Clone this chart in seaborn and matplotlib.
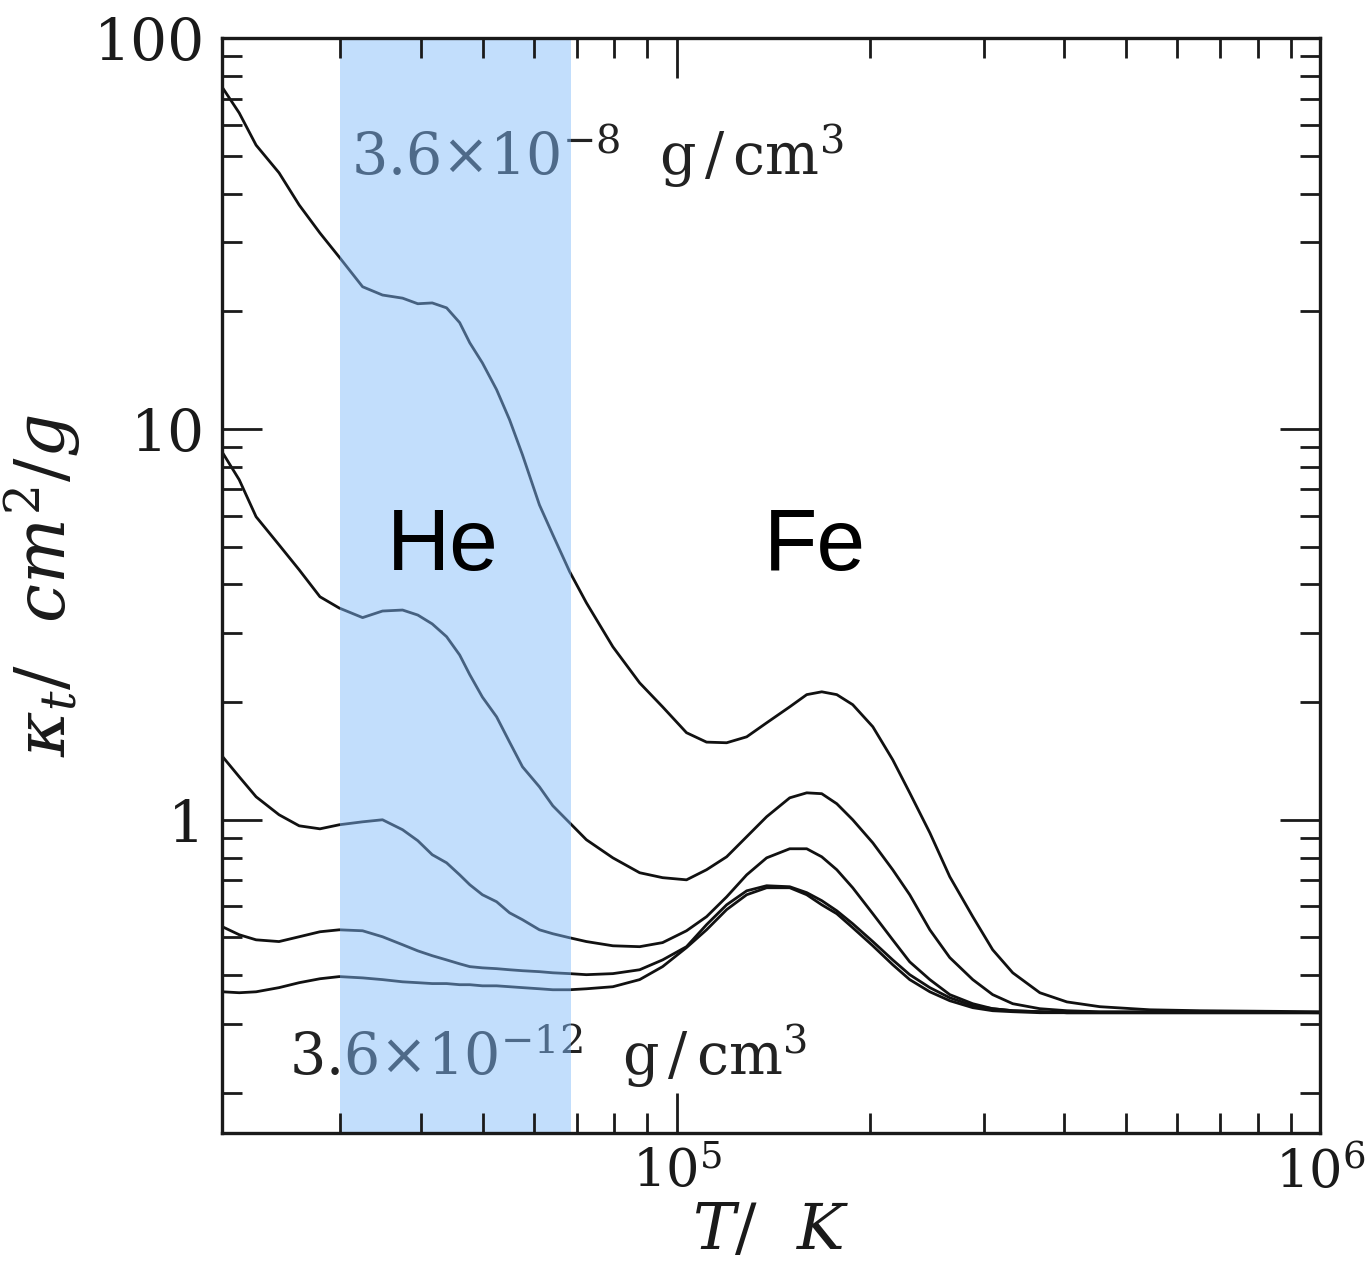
import numpy as np
import pandas as pd
import matplotlib
matplotlib.use("Agg")
import matplotlib.pyplot as plt
import seaborn as sns
from matplotlib.ticker import FixedLocator, LogLocator, NullFormatter

# ---------------- data ----------------
T = [19700, 20900, 22200, 24100, 25900, 27900, 29900, 32500, 34900, 37500,
     39600, 41700, 43900, 46000, 47700, 49900, 52500, 55000, 57600, 61200,
     64200, 68200, 72400, 79600, 87600, 95100, 103600, 111300, 119600, 128500,
     138000, 149900, 159300, 168100, 177400, 187800, 201800, 216700, 230300, 247500,
     265800, 288600, 309900, 333000, 366900, 404200, 454800, 543900, 650700, 1000000]

kappa_rho_8 = [74.5, 64.3, 53.2, 45.2, 37.4, 31.7, 27.5, 23.1, 22.0, 21.6,
               20.9, 21.0, 20.4, 18.7, 16.6, 14.75, 12.6, 10.55, 8.58, 6.39,
               5.36, 4.31, 3.59, 2.77, 2.24, 1.945, 1.67, 1.58, 1.574, 1.63,
               1.77, 1.945, 2.09, 2.125, 2.09, 1.97, 1.73, 1.424, 1.172, 0.926,
               0.715, 0.565, 0.465, 0.406, 0.361, 0.342, 0.3325, 0.3265, 0.3247, 0.3228]

kappa_rho_9 = [8.68, 7.41, 5.96, 5.05, 4.36, 3.72, 3.48, 3.29, 3.42, 3.44,
               3.34, 3.17, 2.94, 2.64, 2.35, 2.06, 1.834, 1.58, 1.366, 1.214,
               1.086, 0.982, 0.889, 0.799, 0.732, 0.711, 0.702, 0.745, 0.804, 0.905,
               1.018, 1.138, 1.172, 1.166, 1.099, 1.0, 0.873, 0.745, 0.643, 0.523,
               0.444, 0.390, 0.357, 0.3384, 0.3286, 0.3247, 0.3228, 0.3228, 0.3228, 0.3209]

kappa_rho_10 = [1.449, 1.288, 1.145, 1.030, 0.965, 0.948, 0.971, 0.988, 1.0, 0.943,
                0.884, 0.814, 0.776, 0.723, 0.682, 0.643, 0.617, 0.578, 0.555, 0.523,
                0.511, 0.499, 0.488, 0.476, 0.4735, 0.485, 0.520, 0.565, 0.635, 0.723,
                0.799, 0.843, 0.843, 0.804, 0.745, 0.670, 0.575, 0.493, 0.433, 0.390,
                0.357, 0.3384, 0.3286, 0.3247, 0.3228, 0.3209, 0.3209, 0.3209, 0.3209, 0.3209]

kappa_rho_11 = [0.532, 0.508, 0.493, 0.488, 0.502, 0.517, 0.523, 0.520, 0.502, 0.479,
                0.462, 0.449, 0.438, 0.428, 0.421, 0.418, 0.416, 0.4133, 0.411, 0.4087,
                0.406, 0.404, 0.4015, 0.404, 0.4133, 0.438, 0.4735, 0.539, 0.606, 0.658,
                0.678, 0.674, 0.651, 0.621, 0.585, 0.542, 0.488, 0.438, 0.4015, 0.372,
                0.3505, 0.3345, 0.3286, 0.3247, 0.3228, 0.3209, 0.3209, 0.3209, 0.3209, 0.3209]

kappa_rho_12 = [0.363, 0.361, 0.363, 0.372, 0.383, 0.392, 0.397, 0.394, 0.390, 0.385,
                0.383, 0.381, 0.381, 0.3785, 0.3785, 0.376, 0.376, 0.374, 0.372, 0.3695,
                0.3674, 0.3674, 0.3695, 0.374, 0.390, 0.421, 0.471, 0.523, 0.589, 0.643,
                0.670, 0.670, 0.643, 0.606, 0.575, 0.5295, 0.476, 0.4258, 0.390, 0.363,
                0.3444, 0.3306, 0.3247, 0.3228, 0.3209, 0.3209, 0.3209, 0.3209, 0.3209, 0.3209]

densities = ["3.6e-8", "3.6e-9", "3.6e-10", "3.6e-11", "3.6e-12"]
series = [kappa_rho_8, kappa_rho_9, kappa_rho_10, kappa_rho_11, kappa_rho_12]

he_band = (30000, 68500)
x_ticks = [1e5, 1e6]
x_ticklabels = [r"$10^5$", r"$10^6$"]
x_minor = [3e4, 4e4, 5e4, 6e4, 7e4, 8e4, 9e4,
           2e5, 3e5, 4e5, 5e5, 6e5, 7e5, 8e5, 9e5]
y_ticks = [1, 10, 100]
y_ticklabels = ["1", "10", "100"]

df = pd.concat(
    [pd.DataFrame({"T": T, "kappa": k, "rho": d}) for d, k in zip(densities, series)],
    ignore_index=True,
)

# ---------------- style ----------------
sns.set_theme(style="ticks")
plt.rcParams["font.family"] = ["DejaVu Serif"]
plt.rcParams["mathtext.fontset"] = "dejavuserif"

fig = plt.figure(figsize=(13.69, 12.71), dpi=100)
ax = fig.add_axes([222 / 1369, 1 - 1133 / 1271, (1320 - 222) / 1369, (1133 - 38) / 1271])

sns.lineplot(data=df, x="T", y="kappa", units="rho", estimator=None,
             color="#111111", linewidth=2.0, ax=ax, legend=False, zorder=2,
             sort=True)

ax.set_xscale("log")
ax.set_yscale("log")
ax.set_xlim(19650, 1e6)
ax.set_ylim(0.158, 100)

# He band drawn over the curves / text with transparency
ax.axvspan(he_band[0], he_band[1], color=(0.50, 0.73, 0.98), alpha=0.48,
           lw=0, zorder=2.2)

ax.set_axisbelow(False)
for sp in ax.spines.values():
    sp.set_linewidth(2.4)
    sp.set_color("#1a1a1a")
    sp.set_zorder(3)

ax.set_xticks(x_ticks, labels=x_ticklabels)
ax.set_yticks(y_ticks, labels=y_ticklabels)
ax.xaxis.set_minor_locator(FixedLocator(x_minor))
ax.yaxis.set_minor_locator(LogLocator(base=10, subs=np.arange(2, 10)))
ax.xaxis.set_minor_formatter(NullFormatter())
ax.yaxis.set_minor_formatter(NullFormatter())

ax.tick_params(which="major", direction="in", length=29, width=2.0,
               top=True, right=True, color="#1a1a1a", labelcolor="#1a1a1a")
ax.tick_params(which="minor", direction="in", length=14.5, width=2.0,
               top=True, right=True, color="#1a1a1a")
ax.tick_params(axis="y", which="major", labelsize=42, pad=12)
ax.tick_params(axis="x", which="major", labelsize=38, pad=10)

ax.set_xlabel(r"$T/\ \ K$", fontsize=46, labelpad=2, color="#1a1a1a")
ax.set_ylabel(r"$\kappa_t/\ \ cm^2/g$", fontsize=50, labelpad=8, color="#1a1a1a")

# density labels (under the band)
ax.text(31200, 44.6, r"$3.6{\times}10^{-8}$  $\mathrm{g}\,/\,\mathrm{cm}^3$", fontsize=41,
        ha="left", va="baseline", color="#222222", zorder=1)
ax.text(25000, 0.2228, r"$3.6{\times}10^{-12}$  $\mathrm{g}\,/\,\mathrm{cm}^3$", fontsize=41,
        ha="left", va="baseline", color="#222222", zorder=1)

# element labels
ax.text(43300, 4.36, "He", fontsize=63, family=["Liberation Sans"],
        ha="center", va="baseline", color="black", zorder=5)
ax.text(163900, 4.36, "Fe", fontsize=63, family=["Liberation Sans"],
        ha="center", va="baseline", color="black", zorder=5)

fig.savefig("out.png", dpi=100)
